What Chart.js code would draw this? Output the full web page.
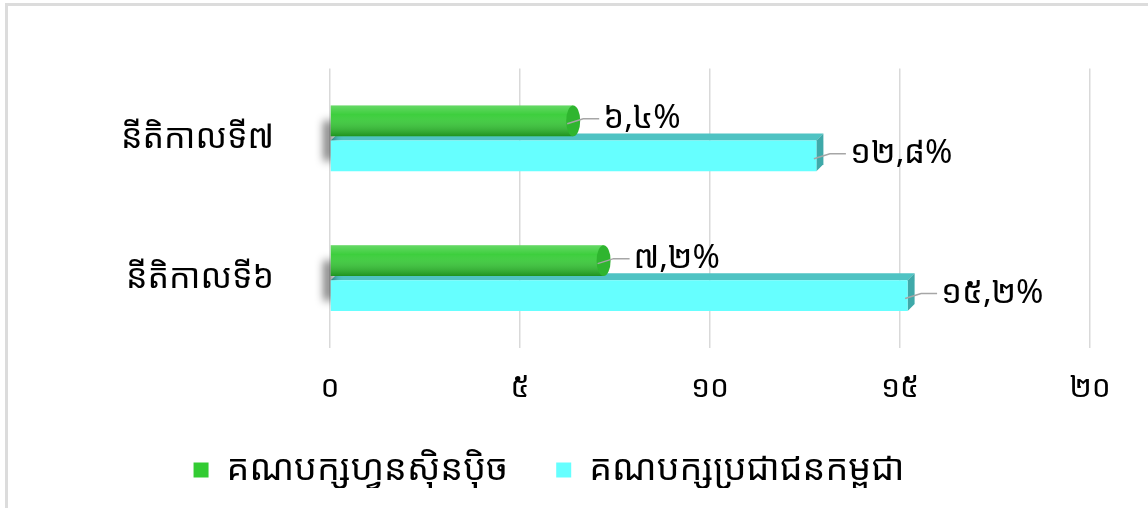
<!DOCTYPE html>
<html>
<head>
<meta charset="utf-8">
<script src="https://cdn.jsdelivr.net/npm/chart.js@4.4.1/dist/chart.umd.min.js"></script>
<style>
  html, body { margin: 0; padding: 0; background: #fff; }
  #box { position: absolute; left: 0; top: 0; width: 1148px; height: 508px; }
  #frame { position: absolute; left: 5px; top: 3px; right: 0; bottom: 0;
           border-left: 3px solid #dcdcdc; border-top: 3px solid #dcdcdc; pointer-events: none; }
</style>
</head>
<body>
<div id="box">
  <canvas id="chart" width="1148" height="508"></canvas>
  <div id="frame"></div>
</div>
<script>
// data
const mandates = ['នីតិកាលទី៧', 'នីតិកាលទី៦'];
const funcinpec = [6.4, 7.2];
const cpp = [12.8, 15.2];
const seriesNames = ['គណបក្សហ្វុនស៊ិនប៉ិច', 'គណបក្សប្រជាជនកម្ពុជា'];
const xTickLabels = ['០', '៥', '១០', '១៥', '២០'];

const KH_DIGITS = ['០', '១', '២', '៣', '៤', '៥', '៦', '៧', '៨', '៩'];
const FONT = '"Noto Sans Khmer", "Khmer OS", "Noto Sans", sans-serif';

function khmerPercent(v) {
    return v.toFixed(1).replace(/\d/g, d => KH_DIGITS[d]).replace('.', ',') + '%';
}

// fake 3D: top face + end face for the box bars, shading for the cylinder bars
const depth = 7;
const bars3d = {
    id: 'bars3d',
    beforeDatasetsDraw(chart) {
        const ctx = chart.ctx;
        ctx.save();
        chart.getDatasetMeta(1).data.forEach(el => {
            const top = el.y - el.height / 2;
            const bot = el.y + el.height / 2;
            ctx.fillStyle = '#4fc3c3';
            ctx.beginPath();
            ctx.moveTo(el.base, top);
            ctx.lineTo(el.base + depth, top - depth);
            ctx.lineTo(el.x + depth, top - depth);
            ctx.lineTo(el.x, top);
            ctx.closePath();
            ctx.fill();
            ctx.fillStyle = '#3fa9a9';
            ctx.beginPath();
            ctx.moveTo(el.x, top);
            ctx.lineTo(el.x + depth, top - depth);
            ctx.lineTo(el.x + depth, bot - depth);
            ctx.lineTo(el.x, bot);
            ctx.closePath();
            ctx.fill();
        });
        // soft shadow at the left foot of each pair
        ctx.filter = 'blur(4px)';
        ctx.fillStyle = 'rgba(0,0,0,0.55)';
        chart.getDatasetMeta(0).data.forEach(el => {
            ctx.fillRect(el.base - 7, el.y, 9, el.height * 1.3);
        });
        ctx.filter = 'none';
        ctx.restore();
    },
    afterDatasetsDraw(chart) {
        const ctx = chart.ctx;
        ctx.save();
        // shade the green cylinders
        chart.getDatasetMeta(0).data.forEach(el => {
            const top = el.y - el.height / 2;
            const bot = el.y + el.height / 2;
            const g = ctx.createLinearGradient(0, top, 0, bot);
            g.addColorStop(0, 'rgba(255,255,255,0.25)');
            g.addColorStop(0.3, 'rgba(255,255,255,0.05)');
            g.addColorStop(1, 'rgba(0,60,0,0.4)');
            ctx.fillStyle = g;
            ctx.fillRect(el.base, top, el.x - el.base, el.height);
            ctx.fillStyle = '#2fb52f';
            ctx.beginPath();
            ctx.ellipse(el.x, el.y, 7, el.height / 2, 0, 0, Math.PI * 2);
            ctx.fill();
        });
        // value labels with leader lines
        ctx.font = '33px ' + FONT;
        ctx.textBaseline = 'middle';
        ctx.textAlign = 'left';
        chart.data.datasets.forEach((ds, di) => {
            chart.getDatasetMeta(di).data.forEach((el, i) => {
                const x0 = el.x + (di === 1 ? depth / 2 : 0);
                ctx.strokeStyle = '#a6a6a6';
                ctx.lineWidth = 1.5;
                ctx.beginPath();
                ctx.moveTo(x0 - 6, el.y + 3);
                ctx.lineTo(x0 + 10, el.y - 2);
                ctx.lineTo(x0 + 26, el.y - 2);
                ctx.stroke();
                ctx.fillStyle = '#000';
                ctx.fillText(khmerPercent(ds.data[i]), x0 + 30, el.y - 2);
            });
        });
        ctx.restore();
    }
};

new Chart(document.getElementById('chart'), {
    type: 'bar',
    data: {
        labels: mandates,
        datasets: [
            {
                label: seriesNames[0],
                data: funcinpec,
                backgroundColor: '#33cc33',
                borderWidth: 0,
                categoryPercentage: 0.5,
                barPercentage: 0.88
            },
            {
                label: seriesNames[1],
                data: cpp,
                backgroundColor: '#66ffff',
                borderWidth: 0,
                categoryPercentage: 0.5,
                barPercentage: 0.88
            }
        ]
    },
    options: {
        indexAxis: 'y',
        responsive: false,
        animation: false,
        layout: { padding: { left: 8, right: 58, top: 45, bottom: 20 } },
        scales: {
            x: {
                min: 0,
                max: 20,
                ticks: {
                    stepSize: 5,
                    color: '#000',
                    font: { family: FONT, size: 30 },
                    padding: 22,
                    callback: (v, i) => xTickLabels[i]
                },
                grid: { color: '#d9d9d9', lineWidth: 1.5, drawTicks: false },
                border: { display: false },
                afterFit(scale) { scale.height = 56; }
            },
            y: {
                ticks: {
                    color: '#000',
                    font: { family: FONT, size: 34 },
                    padding: 48
                },
                grid: { display: false },
                border: { display: false },
                afterFit(scale) { scale.width = 322; }
            }
        },
        plugins: {
            legend: {
                position: 'bottom',
                maxHeight: 84,
                labels: {
                    color: '#000',
                    font: { family: FONT, size: 36 },
                    boxWidth: 15,
                    boxHeight: 15,
                    padding: 48
                }
            },
            tooltip: { enabled: false }
        }
    },
    plugins: [bars3d]
});
</script>
</body>
</html>
